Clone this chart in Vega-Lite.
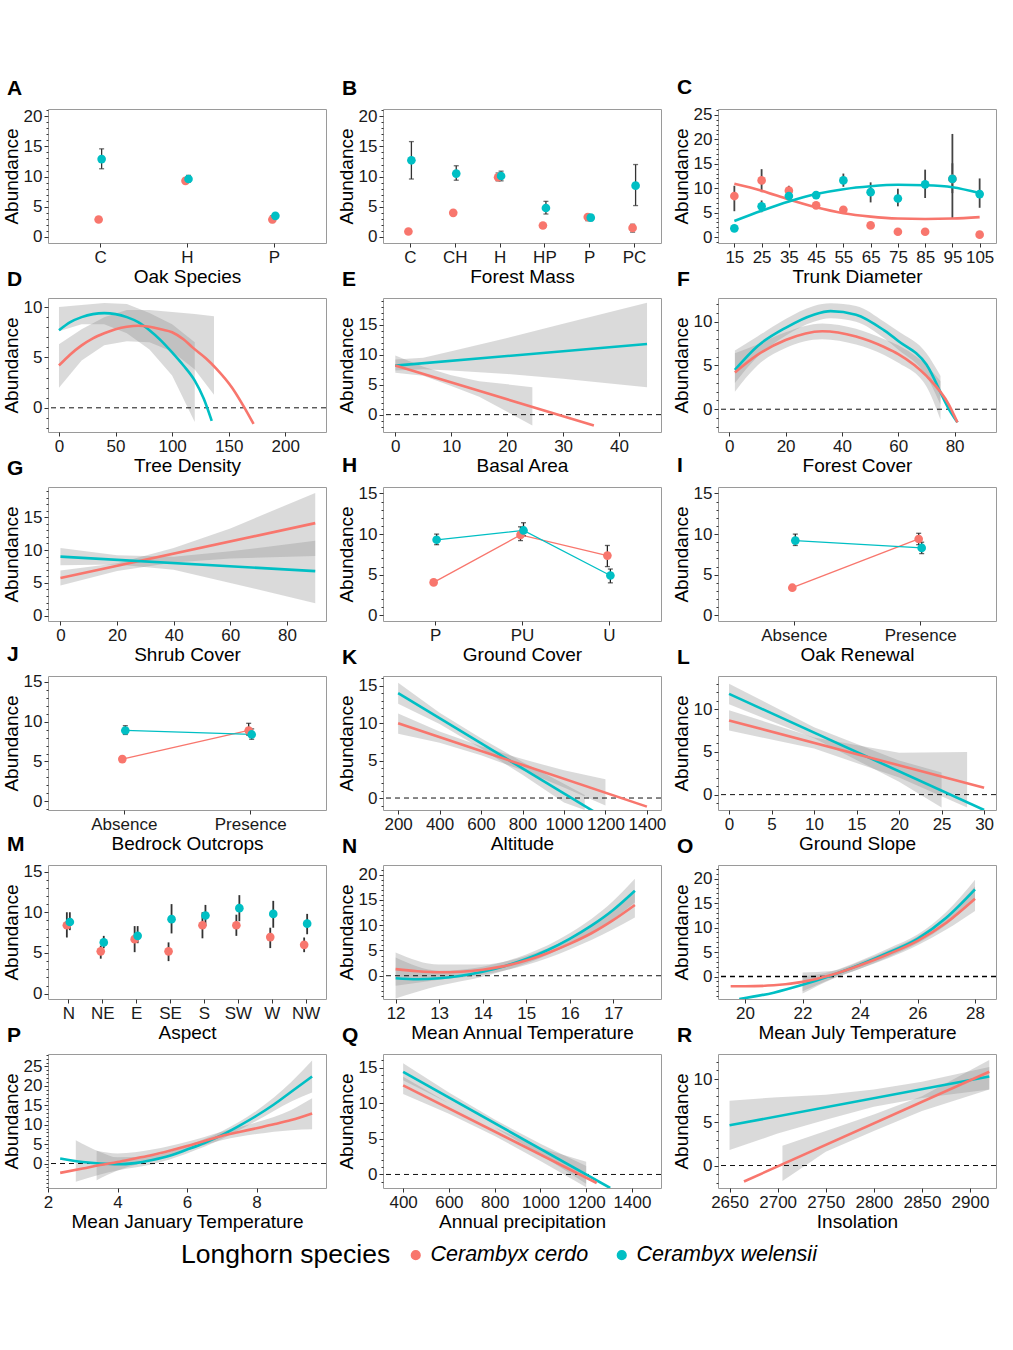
{
"$schema": "https://vega.github.io/schema/vega-lite/v6.json",
"padding": {"top": 76, "left": 1, "right": 5, "bottom": 5},
"background": "white",
"config": {
  "font": "Liberation Sans",
  "view": {"stroke": "#9a9a9a", "strokeWidth": 1},
  "axis": {"domain": false, "ticks": true, "tickColor": "#333333", "tickSize": 4, "labelFontSize": 17, "labelColor": "#1a1a1a", "titleFontSize": 19, "titleFontWeight": "normal", "titleColor": "#000000", "grid": false, "labelFlush": false, "labelPadding": 2, "titlePadding": 2},
  "title": {"anchor": "start", "frame": "bounds", "fontSize": 21, "fontWeight": "bold", "color": "#000000", "offset": 8, "dx": 5},
  "legend": {"orient": "bottom", "direction": "horizontal", "titleOrient": "left", "titleFontSize": 26.5, "titleFontWeight": "normal", "titleColor": "#000000", "titleLimit": 0, "labelLimit": 0, "labelFontSize": 21.5, "labelFontStyle": "italic", "labelColor": "#000000", "symbolType": "circle", "symbolSize": 75, "columnPadding": 22, "titlePadding": 14, "offset": 12, "layout": {"bottom": {"anchor": "middle"}}}
},
"datasets": {
  "A": [
    {"cat":"C","sp":"Cerambyx cerdo","y":2.9,"lo":2.7,"hi":3.1},
    {"cat":"H","sp":"Cerambyx cerdo","y":9.3,"lo":8.9,"hi":9.7},
    {"cat":"P","sp":"Cerambyx cerdo","y":2.9,"lo":2.4,"hi":3.5},
    {"cat":"C","sp":"Cerambyx welensii","y":12.9,"lo":11.3,"hi":14.6},
    {"cat":"H","sp":"Cerambyx welensii","y":9.6,"lo":9.1,"hi":10.2},
    {"cat":"P","sp":"Cerambyx welensii","y":3.5,"lo":3.2,"hi":3.8}
  ],
  "B": [
    {"cat":"C","sp":"Cerambyx cerdo","y":0.9,"lo":0.7,"hi":1.1},
    {"cat":"CH","sp":"Cerambyx cerdo","y":4.0,"lo":3.8,"hi":4.2},
    {"cat":"H","sp":"Cerambyx cerdo","y":9.9,"lo":9.3,"hi":10.6},
    {"cat":"HP","sp":"Cerambyx cerdo","y":1.9,"lo":1.7,"hi":2.1},
    {"cat":"P","sp":"Cerambyx cerdo","y":3.3,"lo":2.7,"hi":3.6},
    {"cat":"PC","sp":"Cerambyx cerdo","y":1.5,"lo":0.8,"hi":2.1},
    {"cat":"C","sp":"Cerambyx welensii","y":12.7,"lo":9.6,"hi":15.8},
    {"cat":"CH","sp":"Cerambyx welensii","y":10.5,"lo":9.4,"hi":11.8},
    {"cat":"H","sp":"Cerambyx welensii","y":10.1,"lo":9.3,"hi":10.9},
    {"cat":"HP","sp":"Cerambyx welensii","y":4.8,"lo":3.8,"hi":5.9},
    {"cat":"P","sp":"Cerambyx welensii","y":3.2,"lo":2.7,"hi":3.6},
    {"cat":"PC","sp":"Cerambyx welensii","y":8.5,"lo":5.2,"hi":12.0}
  ],
  "C_pts": [
    {"x":15,"sp":"Cerambyx cerdo","y":8.4,"lo":5.3,"hi":10.5},
    {"x":25,"sp":"Cerambyx cerdo","y":11.6,"lo":9.2,"hi":13.9},
    {"x":35,"sp":"Cerambyx cerdo","y":9.5,"lo":8.6,"hi":10.5},
    {"x":45,"sp":"Cerambyx cerdo","y":6.5,"lo":6.2,"hi":6.8},
    {"x":55,"sp":"Cerambyx cerdo","y":5.6,"lo":5.3,"hi":5.9},
    {"x":65,"sp":"Cerambyx cerdo","y":2.4,"lo":2.2,"hi":2.6},
    {"x":75,"sp":"Cerambyx cerdo","y":1.1,"lo":0.9,"hi":1.3},
    {"x":85,"sp":"Cerambyx cerdo","y":1.1,"lo":0.9,"hi":1.3},
    {"x":95,"sp":"Cerambyx cerdo","y":11.9,"lo":3.9,"hi":21.1},
    {"x":105,"sp":"Cerambyx cerdo","y":0.5,"lo":0.3,"hi":0.7},
    {"x":15,"sp":"Cerambyx welensii","y":1.8,"lo":1.5,"hi":2.1},
    {"x":25,"sp":"Cerambyx welensii","y":6.3,"lo":5.1,"hi":7.5},
    {"x":35,"sp":"Cerambyx welensii","y":8.4,"lo":7.6,"hi":9.2},
    {"x":45,"sp":"Cerambyx welensii","y":8.6,"lo":8.0,"hi":9.2},
    {"x":55,"sp":"Cerambyx welensii","y":11.6,"lo":10.3,"hi":13.0},
    {"x":65,"sp":"Cerambyx welensii","y":9.2,"lo":7.1,"hi":11.2},
    {"x":75,"sp":"Cerambyx welensii","y":7.9,"lo":6.3,"hi":9.9},
    {"x":85,"sp":"Cerambyx welensii","y":10.8,"lo":8.0,"hi":13.8},
    {"x":95,"sp":"Cerambyx welensii","y":11.9,"lo":9.0,"hi":15.1},
    {"x":105,"sp":"Cerambyx welensii","y":8.8,"lo":6.0,"hi":12.0}
  ],
  "C_fit": [
    {"x":15,"sp":"Cerambyx cerdo","y":10.9},{"x":25,"sp":"Cerambyx cerdo","y":9.5},{"x":35,"sp":"Cerambyx cerdo","y":7.7},{"x":45,"sp":"Cerambyx cerdo","y":6.1},{"x":55,"sp":"Cerambyx cerdo","y":4.9},{"x":65,"sp":"Cerambyx cerdo","y":4.2},{"x":75,"sp":"Cerambyx cerdo","y":3.8},{"x":85,"sp":"Cerambyx cerdo","y":3.7},{"x":95,"sp":"Cerambyx cerdo","y":3.8},{"x":105,"sp":"Cerambyx cerdo","y":4.1},
    {"x":15,"sp":"Cerambyx welensii","y":3.3},{"x":25,"sp":"Cerambyx welensii","y":5.4},{"x":35,"sp":"Cerambyx welensii","y":7.3},{"x":45,"sp":"Cerambyx welensii","y":8.8},{"x":55,"sp":"Cerambyx welensii","y":9.8},{"x":65,"sp":"Cerambyx welensii","y":10.4},{"x":75,"sp":"Cerambyx welensii","y":10.7},{"x":85,"sp":"Cerambyx welensii","y":10.6},{"x":95,"sp":"Cerambyx welensii","y":10.2},{"x":105,"sp":"Cerambyx welensii","y":9.0}
  ],
  "D_band": [
    {"x":0,"sp":"Cerambyx welensii","lo":7.6,"hi":10.0},{"x":20,"sp":"Cerambyx welensii","lo":8.3,"hi":10.2},{"x":40,"sp":"Cerambyx welensii","lo":8.3,"hi":10.4},{"x":60,"sp":"Cerambyx welensii","lo":7.4,"hi":10.3},{"x":80,"sp":"Cerambyx welensii","lo":5.8,"hi":9.4},{"x":100,"sp":"Cerambyx welensii","lo":3.2,"hi":8.3},{"x":120,"sp":"Cerambyx welensii","lo":-1.4,"hi":6.5},
    {"x":0,"sp":"Cerambyx cerdo","lo":2.0,"hi":6.3},{"x":20,"sp":"Cerambyx cerdo","lo":4.7,"hi":7.8},{"x":40,"sp":"Cerambyx cerdo","lo":6.2,"hi":9.0},{"x":60,"sp":"Cerambyx cerdo","lo":6.6,"hi":9.7},{"x":80,"sp":"Cerambyx cerdo","lo":6.5,"hi":9.7},{"x":100,"sp":"Cerambyx cerdo","lo":5.6,"hi":9.5},{"x":120,"sp":"Cerambyx cerdo","lo":3.8,"hi":9.3},{"x":137,"sp":"Cerambyx cerdo","lo":1.3,"hi":9.1}
  ],
  "D_fit": [
    {"x":0,"sp":"Cerambyx welensii","y":7.7},{"x":10,"sp":"Cerambyx welensii","y":8.5},{"x":20,"sp":"Cerambyx welensii","y":9.0},{"x":30,"sp":"Cerambyx welensii","y":9.3},{"x":40,"sp":"Cerambyx welensii","y":9.4},{"x":50,"sp":"Cerambyx welensii","y":9.3},{"x":60,"sp":"Cerambyx welensii","y":9.0},{"x":70,"sp":"Cerambyx welensii","y":8.5},{"x":80,"sp":"Cerambyx welensii","y":7.7},{"x":90,"sp":"Cerambyx welensii","y":6.7},{"x":100,"sp":"Cerambyx welensii","y":5.5},{"x":110,"sp":"Cerambyx welensii","y":4.2},{"x":120,"sp":"Cerambyx welensii","y":2.7},{"x":128,"sp":"Cerambyx welensii","y":0.9},{"x":135,"sp":"Cerambyx welensii","y":-1.3},
    {"x":0,"sp":"Cerambyx cerdo","y":4.2},{"x":10,"sp":"Cerambyx cerdo","y":5.3},{"x":20,"sp":"Cerambyx cerdo","y":6.2},{"x":30,"sp":"Cerambyx cerdo","y":6.9},{"x":40,"sp":"Cerambyx cerdo","y":7.4},{"x":50,"sp":"Cerambyx cerdo","y":7.8},{"x":60,"sp":"Cerambyx cerdo","y":8.05},{"x":70,"sp":"Cerambyx cerdo","y":8.15},{"x":80,"sp":"Cerambyx cerdo","y":8.05},{"x":90,"sp":"Cerambyx cerdo","y":7.8},{"x":100,"sp":"Cerambyx cerdo","y":7.5},{"x":110,"sp":"Cerambyx cerdo","y":6.8},{"x":118,"sp":"Cerambyx cerdo","y":6.0},{"x":130,"sp":"Cerambyx cerdo","y":4.9},{"x":139,"sp":"Cerambyx cerdo","y":3.9},{"x":153,"sp":"Cerambyx cerdo","y":2.0},{"x":163,"sp":"Cerambyx cerdo","y":0.2},{"x":172,"sp":"Cerambyx cerdo","y":-1.6}
  ],
  "E_band": [
    {"x":0,"sp":"Cerambyx welensii","lo":7.4,"hi":9.2},{"x":5,"sp":"Cerambyx welensii","lo":7.6,"hi":9.5},{"x":10,"sp":"Cerambyx welensii","lo":7.4,"hi":10.6},{"x":20,"sp":"Cerambyx welensii","lo":6.8,"hi":12.8},{"x":30,"sp":"Cerambyx welensii","lo":6.0,"hi":15.2},{"x":45,"sp":"Cerambyx welensii","lo":4.6,"hi":18.7},
    {"x":0,"sp":"Cerambyx cerdo","lo":7.0,"hi":9.9},{"x":5,"sp":"Cerambyx cerdo","lo":6.5,"hi":8.0},{"x":10,"sp":"Cerambyx cerdo","lo":4.8,"hi":6.6},{"x":15,"sp":"Cerambyx cerdo","lo":3.0,"hi":5.6},{"x":24.5,"sp":"Cerambyx cerdo","lo":-1.8,"hi":4.6}
  ],
  "E_fit": [
    {"x":0,"sp":"Cerambyx welensii","y":8.2},{"x":45,"sp":"Cerambyx welensii","y":11.8},
    {"x":0,"sp":"Cerambyx cerdo","y":8.2},{"x":35.5,"sp":"Cerambyx cerdo","y":-1.8}
  ],
  "F_band": [
    {"x":2,"sp":"Cerambyx welensii","lo":3.0,"hi":6.7},{"x":10,"sp":"Cerambyx welensii","lo":6.0,"hi":8.3},{"x":20,"sp":"Cerambyx welensii","lo":8.4,"hi":10.3},{"x":30,"sp":"Cerambyx welensii","lo":10.0,"hi":11.8},{"x":36,"sp":"Cerambyx welensii","lo":10.4,"hi":12.1},{"x":45,"sp":"Cerambyx welensii","lo":10.0,"hi":11.8},{"x":55,"sp":"Cerambyx welensii","lo":8.1,"hi":10.0},{"x":60,"sp":"Cerambyx welensii","lo":6.8,"hi":8.9},{"x":70,"sp":"Cerambyx welensii","lo":3.8,"hi":6.4},{"x":75,"sp":"Cerambyx welensii","lo":0.5,"hi":3.8},
    {"x":2,"sp":"Cerambyx cerdo","lo":2.0,"hi":6.4},{"x":10,"sp":"Cerambyx cerdo","lo":5.0,"hi":7.4},{"x":20,"sp":"Cerambyx cerdo","lo":7.0,"hi":8.8},{"x":33,"sp":"Cerambyx cerdo","lo":8.0,"hi":9.8},{"x":45,"sp":"Cerambyx cerdo","lo":7.4,"hi":9.2},{"x":55,"sp":"Cerambyx cerdo","lo":6.2,"hi":8.0},{"x":60,"sp":"Cerambyx cerdo","lo":5.3,"hi":7.3},{"x":70,"sp":"Cerambyx cerdo","lo":2.6,"hi":5.0},{"x":75,"sp":"Cerambyx cerdo","lo":-1.2,"hi":3.2}
  ],
  "F_fit": [
    {"x":2,"sp":"Cerambyx welensii","y":4.5},{"x":10,"sp":"Cerambyx welensii","y":7.2},{"x":20,"sp":"Cerambyx welensii","y":9.3},{"x":30,"sp":"Cerambyx welensii","y":10.8},{"x":36,"sp":"Cerambyx welensii","y":11.2},{"x":45,"sp":"Cerambyx welensii","y":10.8},{"x":55,"sp":"Cerambyx welensii","y":9.0},{"x":60,"sp":"Cerambyx welensii","y":7.8},{"x":70,"sp":"Cerambyx welensii","y":5.1},{"x":78,"sp":"Cerambyx welensii","y":0.0},{"x":81,"sp":"Cerambyx welensii","y":-1.5},
    {"x":2,"sp":"Cerambyx cerdo","y":4.2},{"x":10,"sp":"Cerambyx cerdo","y":6.2},{"x":20,"sp":"Cerambyx cerdo","y":7.9},{"x":33,"sp":"Cerambyx cerdo","y":8.9},{"x":45,"sp":"Cerambyx cerdo","y":8.3},{"x":55,"sp":"Cerambyx cerdo","y":7.1},{"x":60,"sp":"Cerambyx cerdo","y":6.3},{"x":70,"sp":"Cerambyx cerdo","y":3.8},{"x":78,"sp":"Cerambyx cerdo","y":0.5},{"x":81,"sp":"Cerambyx cerdo","y":-1.5}
  ],
  "G_band": [
    {"x":0,"sp":"Cerambyx cerdo","lo":4.6,"hi":6.9},{"x":20,"sp":"Cerambyx cerdo","lo":6.8,"hi":8.0},{"x":40,"sp":"Cerambyx cerdo","lo":8.1,"hi":10.3},{"x":60,"sp":"Cerambyx cerdo","lo":8.7,"hi":13.3},{"x":90,"sp":"Cerambyx cerdo","lo":9.1,"hi":18.7},
    {"x":0,"sp":"Cerambyx welensii","lo":7.7,"hi":10.3},{"x":20,"sp":"Cerambyx welensii","lo":7.8,"hi":9.2},{"x":40,"sp":"Cerambyx welensii","lo":7.0,"hi":9.0},{"x":60,"sp":"Cerambyx welensii","lo":5.0,"hi":9.8},{"x":90,"sp":"Cerambyx welensii","lo":1.9,"hi":11.4}
  ],
  "G_fit": [
    {"x":0,"sp":"Cerambyx cerdo","y":5.75},{"x":90,"sp":"Cerambyx cerdo","y":14.1},
    {"x":0,"sp":"Cerambyx welensii","y":9.0},{"x":90,"sp":"Cerambyx welensii","y":6.8}
  ],
  "H": [
    {"cat":"P","sp":"Cerambyx cerdo","y":4.05,"lo":3.9,"hi":4.2},
    {"cat":"PU","sp":"Cerambyx cerdo","y":9.9,"lo":9.2,"hi":10.9},
    {"cat":"U","sp":"Cerambyx cerdo","y":7.35,"lo":6.0,"hi":8.6},
    {"cat":"P","sp":"Cerambyx welensii","y":9.3,"lo":8.7,"hi":10.0},
    {"cat":"PU","sp":"Cerambyx welensii","y":10.45,"lo":9.8,"hi":11.4},
    {"cat":"U","sp":"Cerambyx welensii","y":4.9,"lo":4.0,"hi":5.7}
  ],
  "I": [
    {"cat":"Absence","sp":"Cerambyx cerdo","y":3.4,"lo":3.3,"hi":3.5},
    {"cat":"Presence","sp":"Cerambyx cerdo","y":9.4,"lo":8.7,"hi":10.1},
    {"cat":"Absence","sp":"Cerambyx welensii","y":9.2,"lo":8.6,"hi":10.0},
    {"cat":"Presence","sp":"Cerambyx welensii","y":8.3,"lo":7.6,"hi":9.0}
  ],
  "J": [
    {"cat":"Absence","sp":"Cerambyx cerdo","y":5.3,"lo":5.0,"hi":5.6},
    {"cat":"Presence","sp":"Cerambyx cerdo","y":8.9,"lo":8.3,"hi":9.8},
    {"cat":"Absence","sp":"Cerambyx welensii","y":8.9,"lo":8.4,"hi":9.5},
    {"cat":"Presence","sp":"Cerambyx welensii","y":8.4,"lo":7.8,"hi":9.1}
  ],
  "K_band": [
    {"x":200,"sp":"Cerambyx welensii","lo":12.6,"hi":15.4},{"x":400,"sp":"Cerambyx welensii","lo":9.9,"hi":11.4},{"x":600,"sp":"Cerambyx welensii","lo":6.6,"hi":8.0},{"x":800,"sp":"Cerambyx welensii","lo":3.1,"hi":4.8},{"x":1000,"sp":"Cerambyx welensii","lo":-0.6,"hi":1.9},{"x":1100,"sp":"Cerambyx welensii","lo":-1.6,"hi":0.4},
    {"x":200,"sp":"Cerambyx cerdo","lo":8.6,"hi":11.3},{"x":400,"sp":"Cerambyx cerdo","lo":7.4,"hi":8.9},{"x":600,"sp":"Cerambyx cerdo","lo":5.7,"hi":6.9},{"x":800,"sp":"Cerambyx cerdo","lo":3.7,"hi":5.2},{"x":1000,"sp":"Cerambyx cerdo","lo":1.4,"hi":3.7},{"x":1200,"sp":"Cerambyx cerdo","lo":-1.0,"hi":2.5}
  ],
  "K_fit": [
    {"x":200,"sp":"Cerambyx welensii","y":14.0},{"x":1150,"sp":"Cerambyx welensii","y":-1.9},
    {"x":200,"sp":"Cerambyx cerdo","y":10.0},{"x":1400,"sp":"Cerambyx cerdo","y":-1.15}
  ],
  "L_band": [
    {"x":0,"sp":"Cerambyx welensii","lo":10.6,"hi":13.0},{"x":10,"sp":"Cerambyx welensii","lo":6.6,"hi":7.9},{"x":20,"sp":"Cerambyx welensii","lo":1.5,"hi":4.0},{"x":25,"sp":"Cerambyx welensii","lo":-1.5,"hi":2.6},
    {"x":0,"sp":"Cerambyx cerdo","lo":7.5,"hi":9.9},{"x":10,"sp":"Cerambyx cerdo","lo":5.4,"hi":6.7},{"x":20,"sp":"Cerambyx cerdo","lo":2.0,"hi":4.9},{"x":28,"sp":"Cerambyx cerdo","lo":-1.5,"hi":5.0}
  ],
  "L_fit": [
    {"x":0,"sp":"Cerambyx welensii","y":11.8},{"x":30,"sp":"Cerambyx welensii","y":-1.8},
    {"x":0,"sp":"Cerambyx cerdo","y":8.7},{"x":30,"sp":"Cerambyx cerdo","y":0.8}
  ],
  "M": [
    {"cat":"N","sp":"Cerambyx cerdo","y":8.4,"lo":6.9,"hi":10.0},
    {"cat":"NE","sp":"Cerambyx cerdo","y":5.2,"lo":4.3,"hi":5.9},
    {"cat":"E","sp":"Cerambyx cerdo","y":6.7,"lo":5.1,"hi":8.3},
    {"cat":"SE","sp":"Cerambyx cerdo","y":5.2,"lo":4.0,"hi":6.3},
    {"cat":"S","sp":"Cerambyx cerdo","y":8.4,"lo":6.8,"hi":10.0},
    {"cat":"SW","sp":"Cerambyx cerdo","y":8.4,"lo":7.1,"hi":9.7},
    {"cat":"W","sp":"Cerambyx cerdo","y":6.95,"lo":5.6,"hi":8.1},
    {"cat":"NW","sp":"Cerambyx cerdo","y":6.0,"lo":5.1,"hi":6.9},
    {"cat":"N","sp":"Cerambyx welensii","y":8.8,"lo":7.8,"hi":10.0},
    {"cat":"NE","sp":"Cerambyx welensii","y":6.3,"lo":5.6,"hi":7.1},
    {"cat":"E","sp":"Cerambyx welensii","y":7.1,"lo":6.2,"hi":8.3},
    {"cat":"SE","sp":"Cerambyx welensii","y":9.15,"lo":7.4,"hi":11.0},
    {"cat":"S","sp":"Cerambyx welensii","y":9.6,"lo":8.3,"hi":10.9},
    {"cat":"SW","sp":"Cerambyx welensii","y":10.5,"lo":8.9,"hi":12.1},
    {"cat":"W","sp":"Cerambyx welensii","y":9.8,"lo":8.1,"hi":11.4},
    {"cat":"NW","sp":"Cerambyx welensii","y":8.6,"lo":7.3,"hi":9.8}
  ],
  "N_band": [
    {"x":12,"sp":"Cerambyx welensii","lo":-4.5,"hi":3.6},{"x":13,"sp":"Cerambyx welensii","lo":-2.0,"hi":1.0},{"x":14,"sp":"Cerambyx welensii","lo":-0.2,"hi":1.8},{"x":15,"sp":"Cerambyx welensii","lo":2.4,"hi":4.2},{"x":16,"sp":"Cerambyx welensii","lo":6.2,"hi":8.4},{"x":17,"sp":"Cerambyx welensii","lo":11.2,"hi":14.8},{"x":17.5,"sp":"Cerambyx welensii","lo":14.5,"hi":19.2},
    {"x":12,"sp":"Cerambyx cerdo","lo":-2.0,"hi":4.6},{"x":13,"sp":"Cerambyx cerdo","lo":-0.8,"hi":2.2},{"x":14,"sp":"Cerambyx cerdo","lo":0.2,"hi":2.2},{"x":15,"sp":"Cerambyx cerdo","lo":2.1,"hi":3.9},{"x":16,"sp":"Cerambyx cerdo","lo":5.2,"hi":7.4},{"x":17,"sp":"Cerambyx cerdo","lo":9.2,"hi":12.8},{"x":17.5,"sp":"Cerambyx cerdo","lo":11.5,"hi":16.5}
  ],
  "N_fit": [
    {"x":12,"sp":"Cerambyx welensii","y":-0.5},{"x":12.5,"sp":"Cerambyx welensii","y":-0.7},{"x":13,"sp":"Cerambyx welensii","y":-0.5},{"x":13.5,"sp":"Cerambyx welensii","y":0.0},{"x":14,"sp":"Cerambyx welensii","y":0.8},{"x":14.5,"sp":"Cerambyx welensii","y":1.9},{"x":15,"sp":"Cerambyx welensii","y":3.3},{"x":15.5,"sp":"Cerambyx welensii","y":5.1},{"x":16,"sp":"Cerambyx welensii","y":7.3},{"x":16.5,"sp":"Cerambyx welensii","y":9.9},{"x":17,"sp":"Cerambyx welensii","y":13.0},{"x":17.5,"sp":"Cerambyx welensii","y":16.8},
    {"x":12,"sp":"Cerambyx cerdo","y":1.3},{"x":12.5,"sp":"Cerambyx cerdo","y":0.9},{"x":13,"sp":"Cerambyx cerdo","y":0.7},{"x":13.5,"sp":"Cerambyx cerdo","y":0.8},{"x":14,"sp":"Cerambyx cerdo","y":1.2},{"x":14.5,"sp":"Cerambyx cerdo","y":1.9},{"x":15,"sp":"Cerambyx cerdo","y":3.0},{"x":15.5,"sp":"Cerambyx cerdo","y":4.5},{"x":16,"sp":"Cerambyx cerdo","y":6.3},{"x":16.5,"sp":"Cerambyx cerdo","y":8.4},{"x":17,"sp":"Cerambyx cerdo","y":11.0},{"x":17.5,"sp":"Cerambyx cerdo","y":14.0}
  ],
  "O_band": [
    {"x":22,"sp":"Cerambyx welensii","lo":-3.5,"hi":0.0},{"x":23,"sp":"Cerambyx welensii","lo":-0.6,"hi":1.0},{"x":24,"sp":"Cerambyx welensii","lo":1.6,"hi":3.2},{"x":25,"sp":"Cerambyx welensii","lo":4.0,"hi":5.8},{"x":26,"sp":"Cerambyx welensii","lo":6.8,"hi":8.6},{"x":27,"sp":"Cerambyx welensii","lo":10.6,"hi":13.2},{"x":28,"sp":"Cerambyx welensii","lo":15.8,"hi":19.8},
    {"x":22,"sp":"Cerambyx cerdo","lo":-3.0,"hi":0.8},{"x":23,"sp":"Cerambyx cerdo","lo":-0.5,"hi":1.1},{"x":24,"sp":"Cerambyx cerdo","lo":1.6,"hi":3.0},{"x":25,"sp":"Cerambyx cerdo","lo":3.8,"hi":5.4},{"x":26,"sp":"Cerambyx cerdo","lo":6.4,"hi":8.2},{"x":27,"sp":"Cerambyx cerdo","lo":9.6,"hi":12.3},{"x":28,"sp":"Cerambyx cerdo","lo":13.4,"hi":18.4}
  ],
  "O_fit": [
    {"x":19.8,"sp":"Cerambyx welensii","y":-4.6},{"x":21,"sp":"Cerambyx welensii","y":-3.3},{"x":22,"sp":"Cerambyx welensii","y":-1.7},{"x":23,"sp":"Cerambyx welensii","y":0.2},{"x":24,"sp":"Cerambyx welensii","y":2.4},{"x":25,"sp":"Cerambyx welensii","y":4.9},{"x":26,"sp":"Cerambyx welensii","y":7.7},{"x":27,"sp":"Cerambyx welensii","y":12.0},{"x":28,"sp":"Cerambyx welensii","y":17.8},
    {"x":19.5,"sp":"Cerambyx cerdo","y":-2.0},{"x":20,"sp":"Cerambyx cerdo","y":-2.0},{"x":21,"sp":"Cerambyx cerdo","y":-1.8},{"x":22,"sp":"Cerambyx cerdo","y":-1.1},{"x":23,"sp":"Cerambyx cerdo","y":0.3},{"x":24,"sp":"Cerambyx cerdo","y":2.3},{"x":25,"sp":"Cerambyx cerdo","y":4.6},{"x":26,"sp":"Cerambyx cerdo","y":7.3},{"x":27,"sp":"Cerambyx cerdo","y":11.0},{"x":28,"sp":"Cerambyx cerdo","y":15.9}
  ],
  "P_band": [
    {"x":2.8,"sp":"Cerambyx welensii","lo":-4.7,"hi":6.0},{"x":3.5,"sp":"Cerambyx welensii","lo":-2.8,"hi":3.0},{"x":4,"sp":"Cerambyx welensii","lo":-1.8,"hi":1.6},{"x":5,"sp":"Cerambyx welensii","lo":-0.2,"hi":2.0},{"x":6,"sp":"Cerambyx welensii","lo":2.6,"hi":4.6},{"x":7,"sp":"Cerambyx welensii","lo":6.3,"hi":8.3},{"x":8,"sp":"Cerambyx welensii","lo":11.0,"hi":13.6},{"x":9,"sp":"Cerambyx welensii","lo":16.0,"hi":21.0},{"x":9.6,"sp":"Cerambyx welensii","lo":18.3,"hi":26.5},
    {"x":3.4,"sp":"Cerambyx cerdo","lo":-4.3,"hi":3.3},{"x":4,"sp":"Cerambyx cerdo","lo":-1.8,"hi":2.6},{"x":5,"sp":"Cerambyx cerdo","lo":0.8,"hi":3.6},{"x":6,"sp":"Cerambyx cerdo","lo":3.4,"hi":5.6},{"x":7,"sp":"Cerambyx cerdo","lo":6.0,"hi":8.2},{"x":8,"sp":"Cerambyx cerdo","lo":7.6,"hi":10.6},{"x":9,"sp":"Cerambyx cerdo","lo":8.6,"hi":13.8},{"x":9.6,"sp":"Cerambyx cerdo","lo":8.8,"hi":16.8}
  ],
  "P_fit": [
    {"x":2.35,"sp":"Cerambyx welensii","y":1.3},{"x":3,"sp":"Cerambyx welensii","y":0.4},{"x":3.5,"sp":"Cerambyx welensii","y":0.0},{"x":4,"sp":"Cerambyx welensii","y":-0.2},{"x":4.5,"sp":"Cerambyx welensii","y":0.1},{"x":5,"sp":"Cerambyx welensii","y":0.9},{"x":5.5,"sp":"Cerambyx welensii","y":2.0},{"x":6,"sp":"Cerambyx welensii","y":3.6},{"x":6.5,"sp":"Cerambyx welensii","y":5.3},{"x":7,"sp":"Cerambyx welensii","y":7.3},{"x":7.5,"sp":"Cerambyx welensii","y":9.7},{"x":8,"sp":"Cerambyx welensii","y":12.3},{"x":8.5,"sp":"Cerambyx welensii","y":15.2},{"x":9,"sp":"Cerambyx welensii","y":18.5},{"x":9.6,"sp":"Cerambyx welensii","y":22.4},
    {"x":2.35,"sp":"Cerambyx cerdo","y":-2.4},{"x":3,"sp":"Cerambyx cerdo","y":-1.3},{"x":3.5,"sp":"Cerambyx cerdo","y":-0.4},{"x":4,"sp":"Cerambyx cerdo","y":0.4},{"x":4.5,"sp":"Cerambyx cerdo","y":1.3},{"x":5,"sp":"Cerambyx cerdo","y":2.2},{"x":5.5,"sp":"Cerambyx cerdo","y":3.3},{"x":6,"sp":"Cerambyx cerdo","y":4.5},{"x":6.5,"sp":"Cerambyx cerdo","y":5.8},{"x":7,"sp":"Cerambyx cerdo","y":7.1},{"x":7.5,"sp":"Cerambyx cerdo","y":8.1},{"x":8,"sp":"Cerambyx cerdo","y":9.1},{"x":8.5,"sp":"Cerambyx cerdo","y":10.1},{"x":9,"sp":"Cerambyx cerdo","y":11.2},{"x":9.6,"sp":"Cerambyx cerdo","y":12.9}
  ],
  "Q_band": [
    {"x":400,"sp":"Cerambyx welensii","lo":13.2,"hi":15.6},{"x":600,"sp":"Cerambyx welensii","lo":10.0,"hi":11.5},{"x":800,"sp":"Cerambyx welensii","lo":6.6,"hi":7.7},{"x":1000,"sp":"Cerambyx welensii","lo":2.8,"hi":4.3},{"x":1200,"sp":"Cerambyx welensii","lo":-1.3,"hi":1.2},
    {"x":400,"sp":"Cerambyx cerdo","lo":11.3,"hi":13.7},{"x":600,"sp":"Cerambyx cerdo","lo":8.5,"hi":10.0},{"x":800,"sp":"Cerambyx cerdo","lo":5.4,"hi":6.6},{"x":1000,"sp":"Cerambyx cerdo","lo":1.9,"hi":3.7},{"x":1200,"sp":"Cerambyx cerdo","lo":-1.8,"hi":1.8}
  ],
  "Q_fit": [
    {"x":400,"sp":"Cerambyx welensii","y":14.4},{"x":1305,"sp":"Cerambyx welensii","y":-1.9},
    {"x":400,"sp":"Cerambyx cerdo","y":12.5},{"x":1246,"sp":"Cerambyx cerdo","y":-1.2}
  ],
  "R_band": [
    {"x":2650,"sp":"Cerambyx welensii","lo":1.8,"hi":7.5},{"x":2700,"sp":"Cerambyx welensii","lo":3.7,"hi":7.9},{"x":2750,"sp":"Cerambyx welensii","lo":5.3,"hi":8.2},{"x":2800,"sp":"Cerambyx welensii","lo":6.8,"hi":8.8},{"x":2850,"sp":"Cerambyx welensii","lo":7.8,"hi":9.7},{"x":2920,"sp":"Cerambyx welensii","lo":8.8,"hi":11.4},
    {"x":2705,"sp":"Cerambyx cerdo","lo":-1.8,"hi":2.3},{"x":2750,"sp":"Cerambyx cerdo","lo":1.6,"hi":4.0},{"x":2800,"sp":"Cerambyx cerdo","lo":4.0,"hi":5.9},{"x":2850,"sp":"Cerambyx cerdo","lo":6.3,"hi":8.0},{"x":2920,"sp":"Cerambyx cerdo","lo":8.8,"hi":12.2}
  ],
  "R_fit": [
    {"x":2650,"sp":"Cerambyx welensii","y":4.65},{"x":2920,"sp":"Cerambyx welensii","y":10.3},
    {"x":2665,"sp":"Cerambyx cerdo","y":-1.85},{"x":2920,"sp":"Cerambyx cerdo","y":10.85}
  ],
  "zero": [{"y":0}]
},
"columns": 3,
"spacing": {"row": 55, "column": 57},
"bounds": "flush",
"resolve": {"scale": {"x": "independent", "y": "independent", "color": "shared", "stroke": "shared"}},
"concat": [
  {"title":"A","width":278,"height":134,"data":{"name":"A"},
   "resolve":{"axis":{"y":"independent"}},
   "encoding":{"x":{"field":"cat","type":"nominal","sort":null,"scale":{"type":"point","padding":0.6},"axis":{"title":"Oak Species","labelAngle":0}},
     "xOffset":{"field":"sp","type":"nominal","scale":{"type":"point","range":[-3,3]}}},
   "layer":[
     {"mark":{"type":"rule","color":"#333333","strokeWidth":1.3},"encoding":{"y":{"field":"lo","type":"quantitative","scale":{"domain":[-1,21.2],"nice":false,"zero":false},"axis":{"title":"Abundance","orient":"left","values":[0,5,10,15,20]}},"y2":{"field":"hi"}}},
     {"mark":{"type":"tick","color":"#333333","thickness":1.3,"size":5},"encoding":{"y":{"field":"lo","type":"quantitative","axis":{"title":null,"orient":"left","labels":false,"tickSize":2,"values":[1,2,3,4,6,7,8,9,11,12,13,14,16,17,18,19,21]}}}},
     {"mark":{"type":"tick","color":"#333333","thickness":1.3,"size":5},"encoding":{"y":{"field":"hi","type":"quantitative","axis":null}}},
     {"mark":{"type":"circle","size":75,"opacity":1},"encoding":{"y":{"field":"y","type":"quantitative","axis":null},"color":{"field":"sp","type":"nominal","scale":{"domain":["Cerambyx cerdo","Cerambyx welensii"],"range":["#F8766D","#00BFC4"]},"legend":{"title":"Longhorn species"}}}}
   ]},
  {"title":"B","width":278,"height":134,"data":{"name":"B"},
   "resolve":{"axis":{"y":"independent"}},
   "encoding":{"x":{"field":"cat","type":"nominal","sort":null,"scale":{"type":"point","padding":0.6},"axis":{"title":"Forest Mass","labelAngle":0}},
     "xOffset":{"field":"sp","type":"nominal","scale":{"type":"point","range":[-3,3]}}},
   "layer":[
     {"mark":{"type":"rule","color":"#333333","strokeWidth":1.3},"encoding":{"y":{"field":"lo","type":"quantitative","scale":{"domain":[-1,21.2],"nice":false,"zero":false},"axis":{"title":"Abundance","orient":"left","values":[0,5,10,15,20]}},"y2":{"field":"hi"}}},
     {"mark":{"type":"tick","color":"#333333","thickness":1.3,"size":5},"encoding":{"y":{"field":"lo","type":"quantitative","axis":{"title":null,"orient":"left","labels":false,"tickSize":2,"values":[1,2,3,4,6,7,8,9,11,12,13,14,16,17,18,19,21]}}}},
     {"mark":{"type":"tick","color":"#333333","thickness":1.3,"size":5},"encoding":{"y":{"field":"hi","type":"quantitative","axis":null}}},
     {"mark":{"type":"circle","size":75,"opacity":1},"encoding":{"y":{"field":"y","type":"quantitative","axis":null},"color":{"field":"sp","type":"nominal","scale":{"domain":["Cerambyx cerdo","Cerambyx welensii"],"range":["#F8766D","#00BFC4"]},"legend":{"title":"Longhorn species"}}}}
   ]},
  {"title":"C","width":278,"height":134,
   "resolve":{"axis":{"x":"independent","y":"independent"}},
   "layer":[
     {"data":{"name":"C_pts"},"mark":{"type":"rule","color":"#444444","strokeWidth":1.8},"encoding":{"x":{"field":"x","type":"quantitative","scale":{"domain":[9,111],"nice":false,"zero":false},"axis":{"title":"Trunk Diameter","orient":"bottom","values":[15,35,55,75,95]}},"y":{"field":"lo","type":"quantitative","scale":{"domain":[-1.2,26.2],"nice":false,"zero":false},"axis":{"title":"Abundance","orient":"left","values":[0,10,20]}},"y2":{"field":"hi"}}},
     {"data":{"name":"C_fit"},"mark":{"type":"line","strokeWidth":2.6,"interpolate":"monotone"},"encoding":{"x":{"field":"x","type":"quantitative","axis":{"title":null,"orient":"bottom","values":[25,45,65,85,105]}},"y":{"field":"y","type":"quantitative","axis":{"title":null,"orient":"left","values":[5,15,25]}},"stroke":{"field":"sp","type":"nominal","scale":{"domain":["Cerambyx cerdo","Cerambyx welensii"],"range":["#F8766D","#00BFC4"]},"legend":null}}},
     {"data":{"name":"C_pts"},"mark":{"type":"circle","size":75,"opacity":1},"encoding":{"x":{"field":"x","type":"quantitative","axis":null},"y":{"field":"y","type":"quantitative","axis":{"title":null,"orient":"left","labels":false,"tickSize":2,"values":[-1,1,2,3,4,6,7,8,9,11,12,13,14,16,17,18,19,21,22,23,24,26]}},"color":{"field":"sp","type":"nominal","scale":{"domain":["Cerambyx cerdo","Cerambyx welensii"],"range":["#F8766D","#00BFC4"]},"legend":{"title":"Longhorn species"}}}}
   ]},
  {"title":"D","width":278,"height":134,
   "resolve":{"axis":{"y":"independent"}},
   "layer":[
     {"data":{"name":"D_band"},"mark":{"type":"area","color":"#8c8c8c","opacity":0.32,"clip":true},"encoding":{"x":{"field":"x","type":"quantitative","scale":{"domain":[-9.7,236],"nice":false,"zero":false},"axis":{"title":"Tree Density","values":[0,50,100,150,200]}},"y":{"field":"lo","type":"quantitative","scale":{"domain":[-2.4,10.9],"nice":false,"zero":false},"axis":{"title":"Abundance","orient":"left","values":[0,5,10]}},"y2":{"field":"hi"},"detail":{"field":"sp"}}},
     {"data":{"name":"zero"},"mark":{"type":"rule","strokeDash":[5,4],"color":"#111111","strokeWidth":1},"encoding":{"y":{"field":"y","type":"quantitative","axis":null}}},
     {"data":{"name":"D_fit"},"mark":{"type":"line","strokeWidth":2.6,"interpolate":"monotone","clip":true},"encoding":{"x":{"field":"x","type":"quantitative"},"y":{"field":"y","type":"quantitative","axis":{"title":null,"orient":"left","labels":false,"tickSize":2,"values":[-2,-1,1,2,3,4,6,7,8,9]}},"stroke":{"field":"sp","type":"nominal","scale":{"domain":["Cerambyx cerdo","Cerambyx welensii"],"range":["#F8766D","#00BFC4"]},"legend":null}}}
   ]},
  {"title":"E","width":278,"height":134,
   "resolve":{"axis":{"y":"independent"}},
   "layer":[
     {"data":{"name":"E_band"},"mark":{"type":"area","color":"#8c8c8c","opacity":0.32,"clip":true},"encoding":{"x":{"field":"x","type":"quantitative","scale":{"domain":[-2.2,47.5],"nice":false,"zero":false},"axis":{"title":"Basal Area","values":[0,10,20,30,40]}},"y":{"field":"lo","type":"quantitative","scale":{"domain":[-2.9,19.5],"nice":false,"zero":false},"axis":{"title":"Abundance","orient":"left","values":[0,5,10,15]}},"y2":{"field":"hi"},"detail":{"field":"sp"}}},
     {"data":{"name":"zero"},"mark":{"type":"rule","strokeDash":[5,4],"color":"#111111","strokeWidth":1},"encoding":{"y":{"field":"y","type":"quantitative","axis":null}}},
     {"data":{"name":"E_fit"},"mark":{"type":"line","strokeWidth":2.6,"clip":true},"encoding":{"x":{"field":"x","type":"quantitative"},"y":{"field":"y","type":"quantitative","axis":{"title":null,"orient":"left","labels":false,"tickSize":2,"values":[-2,-1,1,2,3,4,6,7,8,9,11,12,13,14,16,17,18,19]}},"stroke":{"field":"sp","type":"nominal","scale":{"domain":["Cerambyx cerdo","Cerambyx welensii"],"range":["#F8766D","#00BFC4"]},"legend":null}}}
   ]},
  {"title":"F","width":278,"height":134,
   "resolve":{"axis":{"y":"independent"}},
   "layer":[
     {"data":{"name":"F_band"},"mark":{"type":"area","color":"#8c8c8c","opacity":0.32,"interpolate":"monotone","clip":true},"encoding":{"x":{"field":"x","type":"quantitative","scale":{"domain":[-4,94.7],"nice":false,"zero":false},"axis":{"title":"Forest Cover","values":[0,20,40,60,80]}},"y":{"field":"lo","type":"quantitative","scale":{"domain":[-2.6,12.7],"nice":false,"zero":false},"axis":{"title":"Abundance","orient":"left","values":[0,5,10]}},"y2":{"field":"hi"},"detail":{"field":"sp"}}},
     {"data":{"name":"zero"},"mark":{"type":"rule","strokeDash":[5,4],"color":"#111111","strokeWidth":1},"encoding":{"y":{"field":"y","type":"quantitative","axis":null}}},
     {"data":{"name":"F_fit"},"mark":{"type":"line","strokeWidth":2.6,"interpolate":"monotone","clip":true},"encoding":{"x":{"field":"x","type":"quantitative"},"y":{"field":"y","type":"quantitative","axis":{"title":null,"orient":"left","labels":false,"tickSize":2,"values":[-2,-1,1,2,3,4,6,7,8,9,11,12]}},"stroke":{"field":"sp","type":"nominal","scale":{"domain":["Cerambyx cerdo","Cerambyx welensii"],"range":["#F8766D","#00BFC4"]},"legend":null}}}
   ]},
  {"title":"G","width":278,"height":134,
   "resolve":{"axis":{"y":"independent"}},
   "layer":[
     {"data":{"name":"G_band"},"mark":{"type":"area","color":"#8c8c8c","opacity":0.32,"clip":true},"encoding":{"x":{"field":"x","type":"quantitative","scale":{"domain":[-4.4,93.8],"nice":false,"zero":false},"axis":{"title":"Shrub Cover","values":[0,20,40,60,80]}},"y":{"field":"lo","type":"quantitative","scale":{"domain":[-0.8,19.6],"nice":false,"zero":false},"axis":{"title":"Abundance","orient":"left","values":[0,5,10,15]}},"y2":{"field":"hi"},"detail":{"field":"sp"}}},
     {"data":{"name":"G_fit"},"mark":{"type":"line","strokeWidth":2.6,"clip":true},"encoding":{"x":{"field":"x","type":"quantitative"},"y":{"field":"y","type":"quantitative","axis":{"title":null,"orient":"left","labels":false,"tickSize":2,"values":[1,2,3,4,6,7,8,9,11,12,13,14,16,17,18,19]}},"stroke":{"field":"sp","type":"nominal","scale":{"domain":["Cerambyx cerdo","Cerambyx welensii"],"range":["#F8766D","#00BFC4"]},"legend":null}}}
   ]},
  {"title":"H","width":278,"height":134,"data":{"name":"H"},
   "resolve":{"axis":{"y":"independent"}},
   "encoding":{"x":{"field":"cat","type":"nominal","sort":null,"scale":{"type":"point","padding":0.6},"axis":{"title":"Ground Cover","labelAngle":0}},
     "xOffset":{"field":"sp","type":"nominal","scale":{"type":"point","range":[-2,2]}}},
   "layer":[
     {"mark":{"type":"line","strokeWidth":1.3},"encoding":{"y":{"field":"y","type":"quantitative","scale":{"domain":[-0.7,15.8],"nice":false,"zero":false},"axis":{"title":"Abundance","orient":"left","values":[0,5,10,15]}},"stroke":{"field":"sp","type":"nominal","scale":{"domain":["Cerambyx cerdo","Cerambyx welensii"],"range":["#F8766D","#00BFC4"]},"legend":null}}},
     {"mark":{"type":"rule","color":"#222222","strokeWidth":1.3},"encoding":{"y":{"field":"lo","type":"quantitative","axis":{"title":null,"orient":"left","labels":false,"tickSize":2,"values":[1,2,3,4,6,7,8,9,11,12,13,14]}},"y2":{"field":"hi"}}},
     {"mark":{"type":"tick","color":"#222222","thickness":1.3,"size":5},"encoding":{"y":{"field":"lo","type":"quantitative","axis":null}}},
     {"mark":{"type":"tick","color":"#222222","thickness":1.3,"size":5},"encoding":{"y":{"field":"hi","type":"quantitative","axis":null}}},
     {"mark":{"type":"circle","size":75,"opacity":1},"encoding":{"y":{"field":"y","type":"quantitative","axis":null},"color":{"field":"sp","type":"nominal","scale":{"domain":["Cerambyx cerdo","Cerambyx welensii"],"range":["#F8766D","#00BFC4"]},"legend":{"title":"Longhorn species"}}}}
   ]},
  {"title":"I","width":278,"height":134,"data":{"name":"I"},
   "resolve":{"axis":{"y":"independent"}},
   "encoding":{"x":{"field":"cat","type":"nominal","sort":null,"scale":{"type":"point","padding":0.6},"axis":{"title":"Oak Renewal","labelAngle":0}},
     "xOffset":{"field":"sp","type":"nominal","scale":{"type":"point","range":[-2,2]}}},
   "layer":[
     {"mark":{"type":"line","strokeWidth":1.3},"encoding":{"y":{"field":"y","type":"quantitative","scale":{"domain":[-0.7,15.8],"nice":false,"zero":false},"axis":{"title":"Abundance","orient":"left","values":[0,5,10,15]}},"stroke":{"field":"sp","type":"nominal","scale":{"domain":["Cerambyx cerdo","Cerambyx welensii"],"range":["#F8766D","#00BFC4"]},"legend":null}}},
     {"mark":{"type":"rule","color":"#222222","strokeWidth":1.3},"encoding":{"y":{"field":"lo","type":"quantitative","axis":{"title":null,"orient":"left","labels":false,"tickSize":2,"values":[1,2,3,4,6,7,8,9,11,12,13,14]}},"y2":{"field":"hi"}}},
     {"mark":{"type":"tick","color":"#222222","thickness":1.3,"size":5},"encoding":{"y":{"field":"lo","type":"quantitative","axis":null}}},
     {"mark":{"type":"tick","color":"#222222","thickness":1.3,"size":5},"encoding":{"y":{"field":"hi","type":"quantitative","axis":null}}},
     {"mark":{"type":"circle","size":75,"opacity":1},"encoding":{"y":{"field":"y","type":"quantitative","axis":null},"color":{"field":"sp","type":"nominal","scale":{"domain":["Cerambyx cerdo","Cerambyx welensii"],"range":["#F8766D","#00BFC4"]},"legend":{"title":"Longhorn species"}}}}
   ]},
  {"title":"J","width":278,"height":134,"data":{"name":"J"},
   "resolve":{"axis":{"y":"independent"}},
   "encoding":{"x":{"field":"cat","type":"nominal","sort":null,"scale":{"type":"point","padding":0.6},"axis":{"title":"Bedrock Outcrops","labelAngle":0}},
     "xOffset":{"field":"sp","type":"nominal","scale":{"type":"point","range":[-2,2]}}},
   "layer":[
     {"mark":{"type":"line","strokeWidth":1.3},"encoding":{"y":{"field":"y","type":"quantitative","scale":{"domain":[-1.1,15.75],"nice":false,"zero":false},"axis":{"title":"Abundance","orient":"left","values":[0,5,10,15]}},"stroke":{"field":"sp","type":"nominal","scale":{"domain":["Cerambyx cerdo","Cerambyx welensii"],"range":["#F8766D","#00BFC4"]},"legend":null}}},
     {"mark":{"type":"rule","color":"#222222","strokeWidth":1.3},"encoding":{"y":{"field":"lo","type":"quantitative","axis":{"title":null,"orient":"left","labels":false,"tickSize":2,"values":[-1,1,2,3,4,6,7,8,9,11,12,13,14]}},"y2":{"field":"hi"}}},
     {"mark":{"type":"tick","color":"#222222","thickness":1.3,"size":5},"encoding":{"y":{"field":"lo","type":"quantitative","axis":null}}},
     {"mark":{"type":"tick","color":"#222222","thickness":1.3,"size":5},"encoding":{"y":{"field":"hi","type":"quantitative","axis":null}}},
     {"mark":{"type":"circle","size":75,"opacity":1},"encoding":{"y":{"field":"y","type":"quantitative","axis":null},"color":{"field":"sp","type":"nominal","scale":{"domain":["Cerambyx cerdo","Cerambyx welensii"],"range":["#F8766D","#00BFC4"]},"legend":{"title":"Longhorn species"}}}}
   ]},
  {"title":"K","width":278,"height":134,
   "resolve":{"axis":{"y":"independent"}},
   "layer":[
     {"data":{"name":"K_band"},"mark":{"type":"area","color":"#8c8c8c","opacity":0.32,"clip":true},"encoding":{"x":{"field":"x","type":"quantitative","scale":{"domain":[127,1468],"nice":false,"zero":false},"axis":{"title":"Altitude","format":"d","values":[200,400,600,800,1000,1200,1400]}},"y":{"field":"lo","type":"quantitative","scale":{"domain":[-1.6,16.3],"nice":false,"zero":false},"axis":{"title":"Abundance","orient":"left","values":[0,5,10,15]}},"y2":{"field":"hi"},"detail":{"field":"sp"}}},
     {"data":{"name":"zero"},"mark":{"type":"rule","strokeDash":[5,4],"color":"#111111","strokeWidth":1},"encoding":{"y":{"field":"y","type":"quantitative","axis":null}}},
     {"data":{"name":"K_fit"},"mark":{"type":"line","strokeWidth":2.6,"clip":true},"encoding":{"x":{"field":"x","type":"quantitative"},"y":{"field":"y","type":"quantitative","axis":{"title":null,"orient":"left","labels":false,"tickSize":2,"values":[-1,1,2,3,4,6,7,8,9,11,12,13,14,16]}},"stroke":{"field":"sp","type":"nominal","scale":{"domain":["Cerambyx cerdo","Cerambyx welensii"],"range":["#F8766D","#00BFC4"]},"legend":null}}}
   ]},
  {"title":"L","width":278,"height":134,
   "resolve":{"axis":{"y":"independent"}},
   "layer":[
     {"data":{"name":"L_band"},"mark":{"type":"area","color":"#8c8c8c","opacity":0.32,"clip":true},"encoding":{"x":{"field":"x","type":"quantitative","scale":{"domain":[-1.3,31.4],"nice":false,"zero":false},"axis":{"title":"Ground Slope","values":[0,5,10,15,20,25,30]}},"y":{"field":"lo","type":"quantitative","scale":{"domain":[-1.8,13.9],"nice":false,"zero":false},"axis":{"title":"Abundance","orient":"left","values":[0,5,10]}},"y2":{"field":"hi"},"detail":{"field":"sp"}}},
     {"data":{"name":"zero"},"mark":{"type":"rule","strokeDash":[5,4],"color":"#111111","strokeWidth":1},"encoding":{"y":{"field":"y","type":"quantitative","axis":null}}},
     {"data":{"name":"L_fit"},"mark":{"type":"line","strokeWidth":2.6,"clip":true},"encoding":{"x":{"field":"x","type":"quantitative"},"y":{"field":"y","type":"quantitative","axis":{"title":null,"orient":"left","labels":false,"tickSize":2,"values":[-1,1,2,3,4,6,7,8,9,11,12,13]}},"stroke":{"field":"sp","type":"nominal","scale":{"domain":["Cerambyx cerdo","Cerambyx welensii"],"range":["#F8766D","#00BFC4"]},"legend":null}}}
   ]},
  {"title":"M","width":278,"height":134,"data":{"name":"M"},
   "resolve":{"axis":{"y":"independent"}},
   "encoding":{"x":{"field":"cat","type":"nominal","sort":null,"scale":{"type":"point","padding":0.6},"axis":{"title":"Aspect","labelAngle":0}},
     "xOffset":{"field":"sp","type":"nominal","scale":{"type":"point","range":[-3,3]}}},
   "layer":[
     {"mark":{"type":"rule","color":"#333333","strokeWidth":1.8},"encoding":{"y":{"field":"lo","type":"quantitative","scale":{"domain":[-0.65,15.8],"nice":false,"zero":false},"axis":{"title":"Abundance","orient":"left","values":[0,5,10,15]}},"y2":{"field":"hi"}}},
     {"mark":{"type":"circle","size":75,"opacity":1},"encoding":{"y":{"field":"y","type":"quantitative","axis":{"title":null,"orient":"left","labels":false,"tickSize":2,"values":[1,2,3,4,6,7,8,9,11,12,13,14]}},"color":{"field":"sp","type":"nominal","scale":{"domain":["Cerambyx cerdo","Cerambyx welensii"],"range":["#F8766D","#00BFC4"]},"legend":{"title":"Longhorn species"}}}}
   ]},
  {"title":"N","width":278,"height":134,
   "resolve":{"axis":{"y":"independent"}},
   "layer":[
     {"data":{"name":"N_band"},"mark":{"type":"area","color":"#8c8c8c","opacity":0.32,"interpolate":"monotone","clip":true},"encoding":{"x":{"field":"x","type":"quantitative","scale":{"domain":[11.71,18.1],"nice":false,"zero":false},"axis":{"title":"Mean Annual Temperature","values":[12,13,14,15,16,17]}},"y":{"field":"lo","type":"quantitative","scale":{"domain":[-4.6,21.9],"nice":false,"zero":false},"axis":{"title":"Abundance","orient":"left","values":[0,10,20]}},"y2":{"field":"hi"},"detail":{"field":"sp"}}},
     {"data":{"name":"zero"},"mark":{"type":"rule","strokeDash":[5,4],"color":"#111111","strokeWidth":1},"encoding":{"y":{"field":"y","type":"quantitative","axis":{"title":null,"orient":"left","values":[5,15]}}}},
     {"data":{"name":"N_fit"},"mark":{"type":"line","strokeWidth":2.6,"interpolate":"monotone","clip":true},"encoding":{"x":{"field":"x","type":"quantitative"},"y":{"field":"y","type":"quantitative","axis":{"title":null,"orient":"left","labels":false,"tickSize":2,"values":[-4,-3,-2,-1,1,2,3,4,6,7,8,9,11,12,13,14,16,17,18,19,21]}},"stroke":{"field":"sp","type":"nominal","scale":{"domain":["Cerambyx cerdo","Cerambyx welensii"],"range":["#F8766D","#00BFC4"]},"legend":null}}}
   ]},
  {"title":"O","width":278,"height":134,
   "resolve":{"axis":{"y":"independent"}},
   "layer":[
     {"data":{"name":"O_band"},"mark":{"type":"area","color":"#8c8c8c","opacity":0.32,"interpolate":"monotone","clip":true},"encoding":{"x":{"field":"x","type":"quantitative","scale":{"domain":[19.06,28.73],"nice":false,"zero":false},"axis":{"title":"Mean July Temperature","values":[20,22,24,26,28]}},"y":{"field":"lo","type":"quantitative","scale":{"domain":[-4.6,22.8],"nice":false,"zero":false},"axis":{"title":"Abundance","orient":"left","values":[0,10,20]}},"y2":{"field":"hi"},"detail":{"field":"sp"}}},
     {"data":{"name":"zero"},"mark":{"type":"rule","strokeDash":[5,4],"color":"#000000","strokeWidth":1.6},"encoding":{"y":{"field":"y","type":"quantitative","axis":{"title":null,"orient":"left","values":[5,15]}}}},
     {"data":{"name":"O_fit"},"mark":{"type":"line","strokeWidth":2.6,"interpolate":"monotone","clip":true},"encoding":{"x":{"field":"x","type":"quantitative"},"y":{"field":"y","type":"quantitative","axis":{"title":null,"orient":"left","labels":false,"tickSize":2,"values":[-4,-3,-2,-1,1,2,3,4,6,7,8,9,11,12,13,14,16,17,18,19,21,22]}},"stroke":{"field":"sp","type":"nominal","scale":{"domain":["Cerambyx cerdo","Cerambyx welensii"],"range":["#F8766D","#00BFC4"]},"legend":null}}}
   ]},
  {"title":"P","width":278,"height":134,
   "resolve":{"axis":{"y":"independent"}},
   "layer":[
     {"data":{"name":"P_band"},"mark":{"type":"area","color":"#8c8c8c","opacity":0.32,"interpolate":"monotone","clip":true},"encoding":{"x":{"field":"x","type":"quantitative","scale":{"domain":[2,10],"nice":false,"zero":false},"axis":{"title":"Mean January Temperature","values":[2,4,6,8]}},"y":{"field":"lo","type":"quantitative","scale":{"domain":[-6.3,28.2],"nice":false,"zero":false},"axis":{"title":"Abundance","orient":"left","values":[0,10,20]}},"y2":{"field":"hi"},"detail":{"field":"sp"}}},
     {"data":{"name":"zero"},"mark":{"type":"rule","strokeDash":[5,4],"color":"#111111","strokeWidth":1},"encoding":{"y":{"field":"y","type":"quantitative","axis":{"title":null,"orient":"left","values":[5,15,25]}}}},
     {"data":{"name":"P_fit"},"mark":{"type":"line","strokeWidth":2.6,"interpolate":"monotone","clip":true},"encoding":{"x":{"field":"x","type":"quantitative"},"y":{"field":"y","type":"quantitative","axis":{"title":null,"orient":"left","labels":false,"tickSize":2,"values":[-6,-5,-4,-3,-2,-1,1,2,3,4,6,7,8,9,11,12,13,14,16,17,18,19,21,22,23,24,26,27,28]}},"stroke":{"field":"sp","type":"nominal","scale":{"domain":["Cerambyx cerdo","Cerambyx welensii"],"range":["#F8766D","#00BFC4"]},"legend":null}}}
   ]},
  {"title":"Q","width":278,"height":134,
   "resolve":{"axis":{"y":"independent"}},
   "layer":[
     {"data":{"name":"Q_band"},"mark":{"type":"area","color":"#8c8c8c","opacity":0.32,"clip":true},"encoding":{"x":{"field":"x","type":"quantitative","scale":{"domain":[312,1527],"nice":false,"zero":false},"axis":{"title":"Annual precipitation","format":"d","values":[400,600,800,1000,1200,1400]}},"y":{"field":"lo","type":"quantitative","scale":{"domain":[-1.9,16.9],"nice":false,"zero":false},"axis":{"title":"Abundance","orient":"left","values":[0,5,10,15]}},"y2":{"field":"hi"},"detail":{"field":"sp"}}},
     {"data":{"name":"zero"},"mark":{"type":"rule","strokeDash":[5,4],"color":"#111111","strokeWidth":1},"encoding":{"y":{"field":"y","type":"quantitative","axis":null}}},
     {"data":{"name":"Q_fit"},"mark":{"type":"line","strokeWidth":2.6,"clip":true},"encoding":{"x":{"field":"x","type":"quantitative"},"y":{"field":"y","type":"quantitative","axis":{"title":null,"orient":"left","labels":false,"tickSize":2,"values":[-1,1,2,3,4,6,7,8,9,11,12,13,14,16]}},"stroke":{"field":"sp","type":"nominal","scale":{"domain":["Cerambyx cerdo","Cerambyx welensii"],"range":["#F8766D","#00BFC4"]},"legend":null}}}
   ]},
  {"title":"R","width":278,"height":134,
   "resolve":{"axis":{"y":"independent"}},
   "layer":[
     {"data":{"name":"R_band"},"mark":{"type":"area","color":"#8c8c8c","opacity":0.32,"clip":true},"encoding":{"x":{"field":"x","type":"quantitative","scale":{"domain":[2638,2927],"nice":false,"zero":false},"axis":{"title":"Insolation","values":[2650,2700,2750,2800,2850,2900],"format":"d"}},"y":{"field":"lo","type":"quantitative","scale":{"domain":[-2.6,12.9],"nice":false,"zero":false},"axis":{"title":"Abundance","orient":"left","values":[0,5,10]}},"y2":{"field":"hi"},"detail":{"field":"sp"}}},
     {"data":{"name":"zero"},"mark":{"type":"rule","strokeDash":[5,4],"color":"#111111","strokeWidth":1},"encoding":{"y":{"field":"y","type":"quantitative","axis":null}}},
     {"data":{"name":"R_fit"},"mark":{"type":"line","strokeWidth":2.6,"clip":true},"encoding":{"x":{"field":"x","type":"quantitative"},"y":{"field":"y","type":"quantitative","axis":{"title":null,"orient":"left","labels":false,"tickSize":2,"values":[-2,-1,1,2,3,4,6,7,8,9,11,12]}},"stroke":{"field":"sp","type":"nominal","scale":{"domain":["Cerambyx cerdo","Cerambyx welensii"],"range":["#F8766D","#00BFC4"]},"legend":null}}}
   ]}
]
}
